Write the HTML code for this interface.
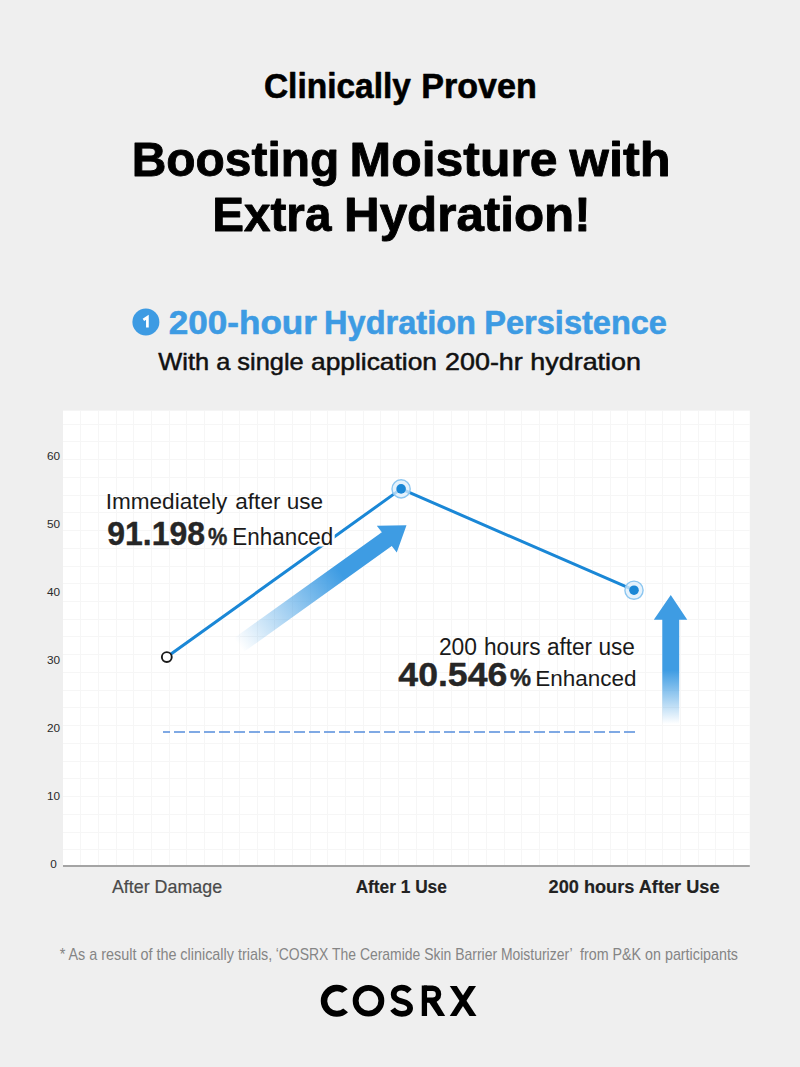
<!DOCTYPE html>
<html><head><meta charset="utf-8"><style>
html,body{margin:0;padding:0;background:#efefef;}
svg{display:block;font-family:"Liberation Sans",sans-serif;}
</style></head><body>
<svg width="800" height="1067" viewBox="0 0 800 1067" xmlns="http://www.w3.org/2000/svg">
<defs>
<linearGradient id="ga" gradientUnits="userSpaceOnUse" x1="238.80" y1="645.07" x2="340.45" y2="572.3">
<stop offset="0" stop-color="#3e9ce3" stop-opacity="0"/>
<stop offset="1" stop-color="#3e9ce3" stop-opacity="1"/>
</linearGradient>
<linearGradient id="gv" gradientUnits="userSpaceOnUse" x1="0" y1="724" x2="0" y2="670">
<stop offset="0" stop-color="#3e9ce3" stop-opacity="0"/>
<stop offset="1" stop-color="#3e9ce3" stop-opacity="1"/>
</linearGradient>
<mask id="mk" maskUnits="userSpaceOnUse" x="0" y="0" width="800" height="1067">
<rect x="0" y="0" width="800" height="1067" fill="#fff"/>
<rect x="100" y="485" width="234.7" height="61.5" fill="#000"/>
</mask>
</defs>
<rect x="0" y="0" width="800" height="1067" fill="#efefef"/>
<rect x="63" y="410.6" width="686.8" height="455" fill="#fff"/>
<g stroke="#f6f6f6" stroke-width="1"><line x1="80.5" y1="410.6" x2="80.5" y2="865" /><line x1="98.5" y1="410.6" x2="98.5" y2="865" /><line x1="116.5" y1="410.6" x2="116.5" y2="865" /><line x1="133.5" y1="410.6" x2="133.5" y2="865" /><line x1="151.5" y1="410.6" x2="151.5" y2="865" /><line x1="169.5" y1="410.6" x2="169.5" y2="865" /><line x1="186.5" y1="410.6" x2="186.5" y2="865" /><line x1="204.5" y1="410.6" x2="204.5" y2="865" /><line x1="222.5" y1="410.6" x2="222.5" y2="865" /><line x1="239.5" y1="410.6" x2="239.5" y2="865" /><line x1="257.5" y1="410.6" x2="257.5" y2="865" /><line x1="274.5" y1="410.6" x2="274.5" y2="865" /><line x1="292.5" y1="410.6" x2="292.5" y2="865" /><line x1="310.5" y1="410.6" x2="310.5" y2="865" /><line x1="327.5" y1="410.6" x2="327.5" y2="865" /><line x1="345.5" y1="410.6" x2="345.5" y2="865" /><line x1="363.5" y1="410.6" x2="363.5" y2="865" /><line x1="380.5" y1="410.6" x2="380.5" y2="865" /><line x1="398.5" y1="410.6" x2="398.5" y2="865" /><line x1="416.5" y1="410.6" x2="416.5" y2="865" /><line x1="433.5" y1="410.6" x2="433.5" y2="865" /><line x1="451.5" y1="410.6" x2="451.5" y2="865" /><line x1="468.5" y1="410.6" x2="468.5" y2="865" /><line x1="486.5" y1="410.6" x2="486.5" y2="865" /><line x1="504.5" y1="410.6" x2="504.5" y2="865" /><line x1="521.5" y1="410.6" x2="521.5" y2="865" /><line x1="539.5" y1="410.6" x2="539.5" y2="865" /><line x1="557.5" y1="410.6" x2="557.5" y2="865" /><line x1="574.5" y1="410.6" x2="574.5" y2="865" /><line x1="592.5" y1="410.6" x2="592.5" y2="865" /><line x1="610.5" y1="410.6" x2="610.5" y2="865" /><line x1="627.5" y1="410.6" x2="627.5" y2="865" /><line x1="645.5" y1="410.6" x2="645.5" y2="865" /><line x1="662.5" y1="410.6" x2="662.5" y2="865" /><line x1="680.5" y1="410.6" x2="680.5" y2="865" /><line x1="698.5" y1="410.6" x2="698.5" y2="865" /><line x1="715.5" y1="410.6" x2="715.5" y2="865" /><line x1="733.5" y1="410.6" x2="733.5" y2="865" /><line x1="63" y1="849.5" x2="749.8" y2="849.5" /><line x1="63" y1="832.5" x2="749.8" y2="832.5" /><line x1="63" y1="814.5" x2="749.8" y2="814.5" /><line x1="63" y1="796.5" x2="749.8" y2="796.5" /><line x1="63" y1="778.5" x2="749.8" y2="778.5" /><line x1="63" y1="761.5" x2="749.8" y2="761.5" /><line x1="63" y1="743.5" x2="749.8" y2="743.5" /><line x1="63" y1="725.5" x2="749.8" y2="725.5" /><line x1="63" y1="707.5" x2="749.8" y2="707.5" /><line x1="63" y1="690.5" x2="749.8" y2="690.5" /><line x1="63" y1="672.5" x2="749.8" y2="672.5" /><line x1="63" y1="654.5" x2="749.8" y2="654.5" /><line x1="63" y1="636.5" x2="749.8" y2="636.5" /><line x1="63" y1="619.5" x2="749.8" y2="619.5" /><line x1="63" y1="601.5" x2="749.8" y2="601.5" /><line x1="63" y1="583.5" x2="749.8" y2="583.5" /><line x1="63" y1="566.5" x2="749.8" y2="566.5" /><line x1="63" y1="548.5" x2="749.8" y2="548.5" /><line x1="63" y1="530.5" x2="749.8" y2="530.5" /><line x1="63" y1="512.5" x2="749.8" y2="512.5" /><line x1="63" y1="495.5" x2="749.8" y2="495.5" /><line x1="63" y1="477.5" x2="749.8" y2="477.5" /><line x1="63" y1="459.5" x2="749.8" y2="459.5" /><line x1="63" y1="441.5" x2="749.8" y2="441.5" /><line x1="63" y1="424.5" x2="749.8" y2="424.5" /></g>
<line x1="63" y1="866" x2="749.8" y2="866" stroke="#a4a4a4" stroke-width="2"/>
<text x="53.6" y="867.90" font-size="11.8" fill="#2a2a2a" text-anchor="middle">0</text><text x="53.6" y="799.95" font-size="11.8" fill="#2a2a2a" text-anchor="middle">10</text><text x="53.6" y="732.00" font-size="11.8" fill="#2a2a2a" text-anchor="middle">20</text><text x="53.6" y="664.05" font-size="11.8" fill="#2a2a2a" text-anchor="middle">30</text><text x="53.6" y="596.10" font-size="11.8" fill="#2a2a2a" text-anchor="middle">40</text><text x="53.6" y="528.15" font-size="11.8" fill="#2a2a2a" text-anchor="middle">50</text><text x="53.6" y="460.20" font-size="11.8" fill="#2a2a2a" text-anchor="middle">60</text>
<polygon points="233.85,638.16 381.85,532.24 376.8,525.8 406.5,525.2 396.75,552.5 391.75,546.06 243.74,651.99" fill="url(#ga)"/>
<polygon points="662.3,724 662.3,619.75 653.8,619.75 670.75,595 687.25,619.75 679.2,619.75 679.2,724" fill="url(#gv)"/>
<line x1="163" y1="732" x2="636" y2="732" stroke="#558ddb" stroke-width="1.7" stroke-dasharray="11 4" stroke-dashoffset="4"/>
<text x="263.95" y="98.1" font-size="34.6" font-weight="bold" fill="#000" stroke="#000" stroke-width="0.6" stroke-linejoin="round" textLength="147.00" lengthAdjust="spacingAndGlyphs">Clinically</text>
<text x="421.30" y="98.1" font-size="34.6" font-weight="bold" fill="#000" stroke="#000" stroke-width="0.6" stroke-linejoin="round" textLength="115.56" lengthAdjust="spacingAndGlyphs">Proven</text>
<text x="131.75" y="175.6" font-size="49" font-weight="bold" fill="#000" stroke="#000" stroke-width="0.9" stroke-linejoin="round" textLength="207.47" lengthAdjust="spacingAndGlyphs">Boosting</text>
<text x="349.62" y="175.6" font-size="49" font-weight="bold" fill="#000" stroke="#000" stroke-width="0.9" stroke-linejoin="round" textLength="208.00" lengthAdjust="spacingAndGlyphs">Moisture</text>
<text x="569.62" y="175.6" font-size="49" font-weight="bold" fill="#000" stroke="#000" stroke-width="0.9" stroke-linejoin="round" textLength="101.14" lengthAdjust="spacingAndGlyphs">with</text>
<text x="212.30" y="230.9" font-size="49" font-weight="bold" fill="#000" stroke="#000" stroke-width="0.9" stroke-linejoin="round" textLength="119.08" lengthAdjust="spacingAndGlyphs">Extra</text>
<text x="344.05" y="230.9" font-size="49" font-weight="bold" fill="#000" stroke="#000" stroke-width="0.9" stroke-linejoin="round" textLength="246.57" lengthAdjust="spacingAndGlyphs">Hydration!</text>
<text x="168.70" y="333.9" font-size="34" font-weight="bold" fill="#3d9be3" stroke="#3d9be3" stroke-width="0.6" stroke-linejoin="round" textLength="148.25" lengthAdjust="spacingAndGlyphs">200-hour</text>
<text x="324.00" y="333.9" font-size="34" font-weight="bold" fill="#3d9be3" stroke="#3d9be3" stroke-width="0.6" stroke-linejoin="round" textLength="152.00" lengthAdjust="spacingAndGlyphs">Hydration</text>
<text x="484.32" y="333.9" font-size="34" font-weight="bold" fill="#3d9be3" stroke="#3d9be3" stroke-width="0.6" stroke-linejoin="round" textLength="182.63" lengthAdjust="spacingAndGlyphs">Persistence</text>
<text x="158.30" y="370.4" font-size="23.8" fill="#111" stroke="#111" stroke-width="0.5" stroke-linejoin="round" textLength="145.40" lengthAdjust="spacingAndGlyphs">With a single</text>
<text x="311.00" y="370.4" font-size="23.8" fill="#111" stroke="#111" stroke-width="0.5" stroke-linejoin="round" textLength="126.00" lengthAdjust="spacingAndGlyphs">application</text>
<text x="445.00" y="370.4" font-size="23.8" fill="#111" stroke="#111" stroke-width="0.5" stroke-linejoin="round" textLength="196.00" lengthAdjust="spacingAndGlyphs">200-hr hydration</text>
<text x="105.70" y="509.0" font-size="22" fill="#1a1a1a" textLength="121.60" lengthAdjust="spacingAndGlyphs">Immediately</text>
<text x="235.30" y="509.0" font-size="22" fill="#1a1a1a" textLength="87.78" lengthAdjust="spacingAndGlyphs">after use</text>
<text x="107.30" y="544.9" font-size="33.2" font-weight="bold" fill="#262626" stroke="#262626" stroke-width="0.4" stroke-linejoin="round" textLength="97.70" lengthAdjust="spacingAndGlyphs">91.198</text>
<text x="208.00" y="545.4" font-size="23" font-weight="bold" fill="#262626" stroke="#262626" stroke-width="0.4" stroke-linejoin="round" textLength="19.30" lengthAdjust="spacingAndGlyphs">%</text>
<text x="232.30" y="545.2" font-size="23" fill="#1a1a1a" textLength="101.00" lengthAdjust="spacingAndGlyphs">Enhanced</text>
<text x="438.92" y="654.8" font-size="23" fill="#1a1a1a" textLength="38.08" lengthAdjust="spacingAndGlyphs">200</text>
<text x="484.00" y="654.8" font-size="23" fill="#1a1a1a" textLength="150.92" lengthAdjust="spacingAndGlyphs">hours after use</text>
<text x="398.38" y="685.5" font-size="32.4" font-weight="bold" fill="#262626" stroke="#262626" stroke-width="0.4" stroke-linejoin="round" textLength="108.92" lengthAdjust="spacingAndGlyphs">40.546</text>
<text x="510.00" y="686.1" font-size="23" font-weight="bold" fill="#262626" stroke="#262626" stroke-width="0.4" stroke-linejoin="round" textLength="21.00" lengthAdjust="spacingAndGlyphs">%</text>
<text x="535.30" y="686.3" font-size="22" fill="#1a1a1a" textLength="101.22" lengthAdjust="spacingAndGlyphs">Enhanced</text>
<text x="111.92" y="892.65" font-size="17.8" fill="#4a4a4a" stroke="#4a4a4a" stroke-width="0.2" stroke-linejoin="round" textLength="110.16" lengthAdjust="spacingAndGlyphs">After Damage</text>
<text x="355.65" y="892.5" font-size="17.8" font-weight="bold" fill="#222" stroke="#222" stroke-width="0.15" stroke-linejoin="round" textLength="91.19" lengthAdjust="spacingAndGlyphs">After 1 Use</text>
<text x="548.54" y="892.9" font-size="17.8" font-weight="bold" fill="#222" stroke="#222" stroke-width="0.15" stroke-linejoin="round" textLength="171.00" lengthAdjust="spacingAndGlyphs">200 hours After Use</text>
<text x="59.65" y="959.5" font-size="15.7" fill="#858585" textLength="212.65" lengthAdjust="spacingAndGlyphs">* As a result of the clinically trials,</text>
<text x="275.70" y="959.5" font-size="15.7" fill="#858585" textLength="297.00" lengthAdjust="spacingAndGlyphs">‘COSRX The Ceramide Skin Barrier Moisturizer’</text>
<text x="580.00" y="959.5" font-size="15.7" fill="#858585" textLength="158.00" lengthAdjust="spacingAndGlyphs">from P&amp;K on participants</text>
<polyline points="166.8,657.05 401.1,488.9 634,590.2" fill="none" stroke="#1a87d6" stroke-width="3" stroke-linejoin="round" mask="url(#mk)"/>
<circle cx="166.8" cy="657.05" r="4.95" fill="#fff" stroke="#1a1a1a" stroke-width="1.9"/>
<circle cx="401.1" cy="488.9" r="9.1" fill="#dcedfb" fill-opacity="0.75" stroke="#8cc6f0" stroke-width="1.4"/>
<circle cx="401.1" cy="488.9" r="4.8" fill="#1a87d6"/>
<circle cx="634" cy="590.2" r="9.1" fill="#dcedfb" fill-opacity="0.75" stroke="#8cc6f0" stroke-width="1.4"/>
<circle cx="634" cy="590.2" r="4.8" fill="#1a87d6"/>
<circle cx="145.9" cy="322" r="13.5" fill="#3d9be3"/>
<path d="M147.4 327.4 V317.3 L143.4 319.9" fill="none" stroke="#fff" stroke-width="2.7" stroke-linejoin="miter"/>
<g fill="#000">
<path d="M347.75 989.25 A16 16 0 1 0 348 1012.25 L343.25 1008.5 A9.75 9.75 0 1 1 342.25 992.75 Z"/>
<circle cx="368.5" cy="1000.75" r="12.85" fill="none" stroke="#000" stroke-width="5.9"/>
<path d="M409.6 991.2 C407.5 988.9 404.8 987.65 401.6 987.65 C397.2 987.65 393.7 990.3 393.7 994.4 C393.7 998.8 397.6 1000.2 401.6 1001.2 C406.4 1002.4 410.1 1004.2 410.1 1008.0 C410.1 1011.6 406.6 1013.85 401.8 1013.85 C397.8 1013.85 394.6 1012.1 392.6 1009.2" fill="none" stroke="#000" stroke-width="5.8"/>
<rect x="421.75" y="985.5" width="5.3" height="30.5"/>
<path d="M424 988.2 H432.6 A5.95 5.95 0 0 1 432.6 1000.1 H424" fill="none" stroke="#000" stroke-width="5.4"/>
<polygon points="427.5,1000 435.5,1000 445.2,1016 438.2,1016"/>
<polygon points="449.75,986 456.75,986 476.5,1016 469.5,1016"/>
<polygon points="469,986 476,986 456.5,1016 449.75,1016"/>
</g>
</svg>
</body></html>
